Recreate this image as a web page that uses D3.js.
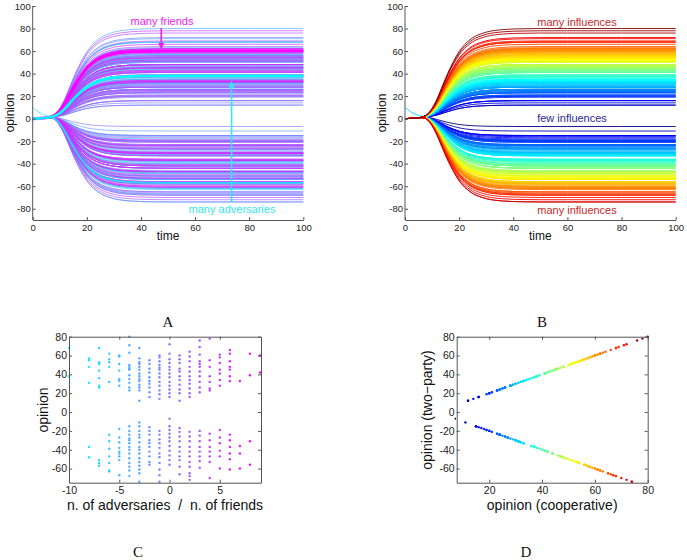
<!DOCTYPE html>
<html>
<head>
<meta charset="utf-8">
<script src="https://cdn.jsdelivr.net/npm/d3@7/dist/d3.min.js"></script>
<style>
  html, body { margin: 0; padding: 0; background: #fff; }
  svg { display: block; }
  text { font-family: "Liberation Sans", Arial, sans-serif; white-space: pre; }
</style>
</head>
<body>
<svg id="chart" width="687" height="560"></svg>
<script>
// ---------------- DATA ----------------
// net number of friends (friends - adversaries) for each column in panel C
const netFriends = [-10, -8, -7, -6, -5, -4, -3, -2, -1, 0, 1, 2, 3, 4, 5, 6, 7, 8, 9];
// final (two-party) opinions of the agents in each column
const finalOpinions = [
  [68, 38],
  [57, 55, 48, 31, -37, -48],
  [68, 53, 51, 44, 36, 28, 26, -51, -54, -57],
  [62, 56, 53, 48, 32, -24, -31, -39, -47, -54, -62, -63],
  [60, 59, 51, 44, 35, 33, 28, -18, -27, -32, -38, -42, -44, -47, -51, -67],
  [80, 71, 63, 50, 48, 46, 45, 39, 35, 31, 26, 23, -15, -20, -24, -28, -30, -33, -37, -40, -44, -49, -54, -58, -62, -68],
  [68, 57, 53, 51, 48, 45, 41, 38, 35, 33, 29, 26, 23, 12, -11, -15, -20, -24, -27, -32, -37, -40, -44, -49, -53, -57, -61, -65, -74],
  [55, 51, 46, 42, 37, 33, 30, 26, 21, 16, -16, -20, -24, -30, -33, -37, -42, -47, -53, -56],
  [60, 58, 54, 50, 47, 45, 41, 37, 32, 28, 23, 19, 14, -20, -24, -29, -33, -38, -44, -48, -54, -61, -67, -74],
  [72, 62, 56, 52, 48, 45, 41, 37, 32, 28, 24, 20, 16, -7, -15, -19, -23, -27, -31, -36, -41, -46, -51, -56],
  [60, 56, 52, 46, 43, 38, 34, 29, 24, 20, 12, -17, -21, -26, -31, -37, -42, -47, -51, -58, -66],
  [64, 59, 54, 48, 43, 38, 34, 30, 25, 20, 16, -21, -26, -31, -37, -42, -47, -53, -58, -65, -68, -72],
  [76, 69, 61, 54, 51, 48, 43, 38, 32, 26, 21, -20, -25, -31, -37, -42, -47, -52, -59],
  [78, 55, 48, 38, 32, 25, 23, -23, -30, -37, -42, -47, -53, -70],
  [61, 58, 52, 45, 41, 34, 28, -19, -27, -33, -41, -47, -60],
  [66, 62, 54, 48, 45, 38, 33, -24, -30, -37, -44, -50, -61],
  [33, -36, -44, -60],
  [62, 39, -31, -56],
  [60, 42]
];
const timeKnots   = [0, 2, 4, 6, 7, 8, 9, 10, 11, 12, 13, 14, 15, 16, 17, 18, 19, 20, 22, 24, 26, 28, 30, 33, 36, 40, 45, 50, 60, 80, 100];
const growthShare = [0, 0, 0, 0.002, 0.008, 0.025, 0.055, 0.10, 0.155, 0.22, 0.295, 0.37, 0.445, 0.515, 0.58, 0.64, 0.695, 0.745, 0.82, 0.875, 0.915, 0.94, 0.96, 0.978, 0.988, 0.995, 0.998, 1, 1, 1, 1];
const commonBump  = [0, 0.2, 0.5, 1.0, 1.3, 1.4, 1.3, 1.1, 0.9, 0.7, 0.55, 0.4, 0.3, 0.2, 0.15, 0.1, 0.05, 0, 0, 0, 0, 0, 0, 0, 0, 0, 0, 0, 0, 0, 0];
// one agent starts from opinion 10 instead of 0
const startOffset = [10, 6, 3.3, 1.2, 0.6, 0.3, 0.12, 0, 0, 0, 0, 0, 0, 0, 0, 0, 0, 0, 0, 0, 0, 0, 0, 0, 0, 0, 0, 0, 0, 0, 0];
const startAgent  = { net: -8, value: 31 };
// highlighted trajectories in panel A: [net friends, final opinion, width]
const highlighted = [[9, 60, 3], [-10, 38, 2.6], [-7, -57, 1.8]];

const yTicksTop = [-80, -60, -40, -20, 0, 20, 40, 60, 80, 100];
const xTicksTop = [0, 20, 40, 60, 80, 100];
const yTicksBottom = [-60, -40, -20, 0, 20, 40, 60, 80];
const xTicksC = [-10, -5, 0, 5];
const xTicksD = [20, 40, 60, 80];

// ---------------- SETUP ----------------
const svg = d3.select("#chart");
svg.append("rect").attr("width", 687).attr("height", 560).attr("fill", "#fff");

const agents = [];
netFriends.forEach((n, i) => finalOpinions[i].forEach(v => agents.push({ net: n, value: v })));

const coolScale = d3.scaleLinear().domain([-10, 9]).range([0, 1]);
const cool = t => d3.rgb(255 * t, 255 * (1 - t), 255) + "";
const clamp = v => Math.max(0, Math.min(1, v));
const jet = t => d3.rgb(255 * clamp(1.5 - Math.abs(4 * t - 3)),
                        255 * clamp(1.5 - Math.abs(4 * t - 2)),
                        255 * clamp(1.5 - Math.abs(4 * t - 1))) + "";
const absExt = d3.extent(agents, d => Math.abs(d.value));
const jetScale = d3.scaleLinear().domain(absExt).range([0, 1]);
const colA = d => cool(coolScale(d.net));
const colB = d => jet(jetScale(Math.abs(d.value)));

const fmt = d => String(d);
const axisColor = "#555";
const tickTextColor = "#222";

function styleAxis(g, fs) {
  g.select(".domain").attr("stroke", axisColor);
  g.selectAll(".tick line").attr("stroke", axisColor);
  g.selectAll(".tick text").attr("fill", tickTextColor).attr("font-size", fs).attr("font-family", '"Liberation Sans", Arial, sans-serif');
}

function trajectory(d) {
  const isStart = d.net === startAgent.net && d.value === startAgent.value;
  return timeKnots.map((t, i) => [t, d.value * growthShare[i] + commonBump[i] + (isStart ? startOffset[i] : 0)]);
}

// ---------------- PANELS A, B ----------------
function timePanel(x0, x1, colorFn, order, highlights, lw, op) {
  const x = d3.scaleLinear().domain([0, 100]).range([x0, x1]);
  const y = d3.scaleLinear().domain([-90, 100]).range([220, 6]);
  const g = svg.append("g");
  const line = d3.line().x(p => x(p[0])).y(p => y(p[1])).curve(d3.curveMonotoneX);
  g.append("g").selectAll("path").data(order).join("path")
    .attr("d", d => line(trajectory(d)))
    .attr("fill", "none")
    .attr("stroke", colorFn)
    .attr("stroke-opacity", op)
    .attr("stroke-width", lw);
  if (highlights) {
    highlights.forEach(h => {
      const d = { net: h[0], value: h[1] };
      g.append("path").attr("d", line(trajectory(d))).attr("fill", "none")
        .attr("stroke", colorFn(d)).attr("stroke-width", h[2]);
    });
  }
  const ax = g.append("g").attr("transform", `translate(0,220)`)
    .call(d3.axisBottom(x).tickValues(xTicksTop).tickFormat(fmt).tickSizeInner(-3).tickSizeOuter(0).tickPadding(4));
  styleAxis(ax, 9.5);
  const ay = g.append("g").attr("transform", `translate(${x0},0)`)
    .call(d3.axisLeft(y).tickValues(yTicksTop).tickFormat(fmt).tickSizeInner(-3).tickSizeOuter(0).tickPadding(2));
  styleAxis(ay, 9.5);
  ay.select(".domain").attr("d", `M0,${y(100)}V220`);
  g.append("text").attr("x", (x0 + x1) / 2).attr("y", 240).attr("text-anchor", "middle")
    .attr("font-size", 12).attr("fill", "#111").text("time");
  g.append("text").attr("transform", `translate(${x0 - 19},113) rotate(-90)`).attr("text-anchor", "middle")
    .attr("font-size", 12).attr("fill", "#111").text("opinion");
  return { x, y, g };
}

const A = timePanel(32.7, 303.3, colA, agents, highlighted, 0.8, 0.85);
const orderB = agents.slice().sort((a, b) => Math.abs(a.value) - Math.abs(b.value));
const B = timePanel(405, 675.7, colB, orderB, null, 0.9, 1);

// annotations panel A
function arrow(g, xPos, yFrom, yTo, color) {
  const dir = yTo > yFrom ? 1 : -1;
  g.append("line").attr("x1", xPos).attr("x2", xPos).attr("y1", yFrom).attr("y2", yTo - dir * 5)
    .attr("stroke", color).attr("stroke-width", 1.6);
  g.append("path").attr("d", `M${xPos - 3},${yTo - dir * 7}L${xPos + 3},${yTo - dir * 7}L${xPos},${yTo}Z`).attr("fill", color);
}
A.g.append("text").attr("x", 162).attr("y", 25).attr("text-anchor", "middle").attr("font-size", 11)
  .attr("fill", "#ee22ee").text("many friends");
arrow(A.g, A.x(47.5), 28, A.y(60) - 1, "#ee22ee");
A.g.append("text").attr("x", 232).attr("y", 213).attr("text-anchor", "middle").attr("font-size", 11)
  .attr("fill", "#33e6f0").text("many adversaries");
arrow(A.g, A.x(73.5), 202, A.y(38) + 5, "#33e6f0");

B.g.append("text").attr("x", 577).attr("y", 26).attr("text-anchor", "middle").attr("font-size", 11)
  .attr("fill", "#c8282a").text("many influences");
B.g.append("text").attr("x", 572).attr("y", 122).attr("text-anchor", "middle").attr("font-size", 11)
  .attr("fill", "#2a2a9a").text("few influences");
B.g.append("text").attr("x", 577).attr("y", 214).attr("text-anchor", "middle").attr("font-size", 11)
  .attr("fill", "#c8282a").text("many influences");

// ---------------- PANELS C, D ----------------
function boxPanel(xDomain, xRange, xTicks, xData, colorFn, xLabel, yLabel, yLabelX) {
  const x = d3.scaleLinear().domain(xDomain).range(xRange);
  const y = d3.scaleLinear().domain([-75, 80]).range([482.7, 336.7]);
  const g = svg.append("g");
  const clipId = "clip" + Math.round(xRange[0]);
  g.append("clipPath").attr("id", clipId).append("rect")
    .attr("x", xRange[0] - 2).attr("y", 334).attr("width", xRange[1] - xRange[0] + 4).attr("height", 151);
  g.append("g").attr("clip-path", `url(#${clipId})`).selectAll("circle").data(agents).join("circle")
    .attr("cx", d => x(xData(d))).attr("cy", d => y(d.value)).attr("r", 1.2)
    .attr("fill", colorFn);
  const ax = g.append("g").attr("transform", `translate(0,482.7)`)
    .call(d3.axisBottom(x).tickValues(xTicks).tickFormat(fmt).tickSizeInner(-3).tickSizeOuter(0).tickPadding(4));
  styleAxis(ax, 10.5);
  const axT = g.append("g").attr("transform", `translate(0,336.7)`)
    .call(d3.axisTop(x).tickValues(xTicks).tickFormat("").tickSizeInner(-3).tickSizeOuter(0));
  styleAxis(axT, 10.5);
  const ay = g.append("g").attr("transform", `translate(${xRange[0]},0)`)
    .call(d3.axisLeft(y).tickValues(yTicksBottom).tickFormat(fmt).tickSizeInner(-3).tickSizeOuter(0).tickPadding(2));
  styleAxis(ay, 10.5);
  const ayR = g.append("g").attr("transform", `translate(${xRange[1]},0)`)
    .call(d3.axisRight(y).tickValues(yTicksBottom).tickFormat("").tickSizeInner(-3).tickSizeOuter(0));
  styleAxis(ayR, 10.5);
  g.append("text").attr("x", (xRange[0] + xRange[1]) / 2).attr("y", 510).attr("text-anchor", "middle")
    .attr("font-size", 14).attr("fill", "#111").text(xLabel);
  g.append("text").attr("transform", `translate(${yLabelX},410) rotate(-90)`).attr("text-anchor", "middle")
    .attr("font-size", 14).attr("fill", "#111").text(yLabel);
  return { x, y, g };
}

boxPanel([-10, 9.1], [69, 261], xTicksC, d => d.net, colA,
  "n. of adversaries  /  n. of friends", "opinion", 48);
boxPanel([7.7, 80], [456.7, 647.7], xTicksD, d => Math.abs(d.value), colB,
  "opinion (cooperative)", "opinion (two\u2212party)", 432);

// ---------------- PANEL LETTERS ----------------
const letters = [["A", 168, 327], ["B", 542, 327], ["C", 138, 557], ["D", 526, 557]];
svg.selectAll("text.letter").data(letters).join("text").attr("class", "letter")
  .attr("x", d => d[1]).attr("y", d => d[2]).attr("text-anchor", "middle")
  .attr("font-size", 15).attr("fill", "#111")
  .style("font-family", '"Liberation Serif", "DejaVu Serif", serif')
  .text(d => d[0]);
</script>
</body>
</html>
